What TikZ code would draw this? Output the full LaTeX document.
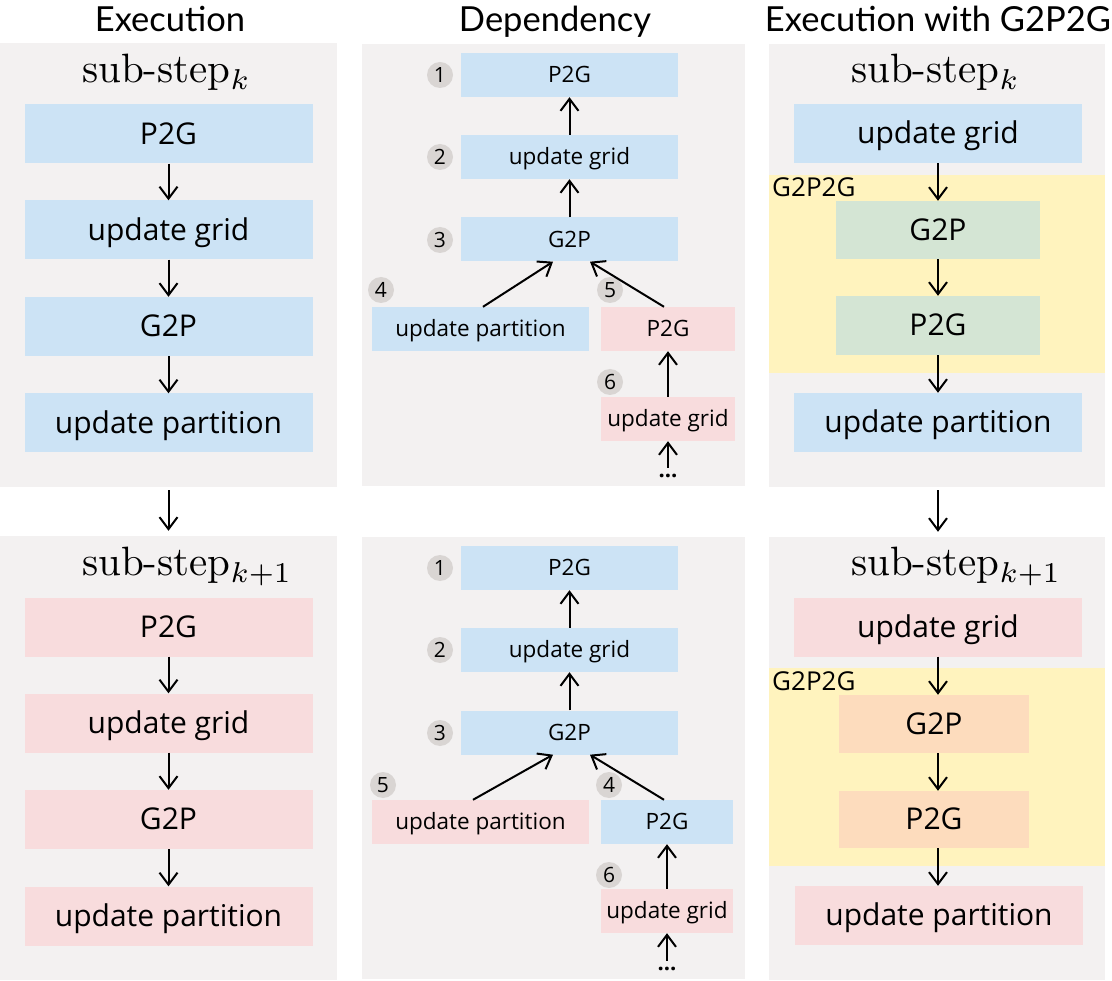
\documentclass[tikz,border=0pt]{standalone}
\usepackage{graphicx}
\usepackage{fontspec}
\newfontfamily\bxfont{Open Sans}
\newfontfamily\hdfont{Lato}
\usetikzlibrary{arrows.meta}
\definecolor{pnlgray}{HTML}{F3F1F1}
\definecolor{bxblue}{HTML}{CCE3F5}
\definecolor{bxpink}{HTML}{F8DCDD}
\definecolor{bxyellow}{HTML}{FFF3BE}
\definecolor{bxgreen}{HTML}{D4E5D4}
\definecolor{bxorange}{HTML}{FDDCBD}
\definecolor{numgray}{HTML}{D9D5D3}
\newcommand{\substeplabel}[1]{\scalebox{4.1}{\fontsize{10}{12}\selectfont sub-step$_{#1}$}}
\begin{document}
\begin{tikzpicture}[x=1pt,y=-1pt,
  pnl/.style={rectangle, fill=pnlgray, inner sep=0, minimum width=#1},
  bx/.style={rectangle, inner sep=0, text=black, minimum height=59pt, minimum width=288pt,
     font=\bxfont\fontsize{30}{36}\selectfont, text height=21.6pt, text depth=1.5pt},
  bxs/.style={rectangle, inner sep=0, text=black, minimum height=44pt, minimum width=217pt,
     font=\bxfont\fontsize{22.5}{27}\selectfont, text height=16.2pt, text depth=1.1pt},
  num/.style={circle, fill=numgray, inner sep=0, minimum size=26pt,
     font=\bxfont\fontsize{21}{25}\selectfont, text height=15pt, text depth=0.5pt},
  hdr/.style={anchor=base, inner sep=0, font=\hdfont\fontsize{34.5}{40}\selectfont},
  sub/.style={anchor=base west, inner sep=0},
  glab/.style={anchor=base west, inner sep=0, font=\bxfont\fontsize{26}{30}\selectfont},
  dots/.style={inner sep=1pt, font=\bxfont\bfseries\fontsize{22}{26}\selectfont},
  arr/.style={line width=2pt, -{Straight Barb[length=12pt,width=18pt,line width=2pt]}}
]
\useasboundingbox (0,0) rectangle (1112,981);
\fill[white] (0,0) rectangle (1112,981);

% headers
\node[hdr] (h1) at (170,32) {Execution};
\node[hdr] (h2) at (555,32) {Dependency};
\node[hdr] (h3) at (938,32) {Execution with G2P2G};

% panels
\node[pnl=337pt, minimum height=444pt] (PL1) at (168.5,265) {};
\node[pnl=337pt, minimum height=444pt] (PL2) at (168.5,758) {};
\node[pnl=383pt, minimum height=442pt] (PM1) at (553.5,265) {};
\node[pnl=383pt, minimum height=442pt] (PM2) at (553.5,758) {};
\node[pnl=336pt, minimum height=443pt] (PR1) at (937,265.5) {};
\node[pnl=336pt, minimum height=443pt] (PR2) at (937,758.5) {};

% yellow G2P2G regions
\node[rectangle, fill=bxyellow, inner sep=0, minimum width=336pt, minimum height=198pt] (Y1) at (937,274) {};
\node[rectangle, fill=bxyellow, inner sep=0, minimum width=336pt, minimum height=198pt] (Y2) at (937,767) {};
\node[glab] (g1) at (772,197) {G2P2G};
\node[glab] (g2) at (772,690) {G2P2G};

% ---------- left column ----------
\node[sub] (s1) at (82,83) {\substeplabel{k}};
\node[bx, fill=bxblue] (L1) at (168.5,134) {P2G};
\node[bx, fill=bxblue] (L2) at (168.5,230) {update grid};
\node[bx, fill=bxblue] (L3) at (168.5,326.5) {G2P};
\node[bx, fill=bxblue] (L4) at (168.5,423) {update partition};
\draw[arr] (L1.south) -- (L2.north);
\draw[arr] (L2.south) -- (L3.north);
\draw[arr] (L3.south) -- (L4.north);

\node[sub] (s2) at (82,576) {\substeplabel{k+1}};
\node[bx, fill=bxpink] (L5) at (168.5,627) {P2G};
\node[bx, fill=bxpink] (L6) at (168.5,723) {update grid};
\node[bx, fill=bxpink] (L7) at (168.5,819.5) {G2P};
\node[bx, fill=bxpink] (L8) at (168.5,916) {update partition};
\draw[arr] (L5.south) -- (L6.north);
\draw[arr] (L6.south) -- (L7.north);
\draw[arr] (L7.south) -- (L8.north);

\draw[arr, shorten <=3pt, shorten >=5pt] (PL1.south) -- (PL2.north);

% ---------- middle column, top ----------
\node[bxs, fill=bxblue] (A1) at (569.5,75) {P2G};
\node[bxs, fill=bxblue] (A2) at (569.5,157) {update grid};
\node[bxs, fill=bxblue] (A3) at (569.5,239.5) {G2P};
\node[bxs, fill=bxblue] (A4) at (480.5,329) {update partition};
\node[bxs, fill=bxpink, minimum width=134pt] (A5) at (668,329) {P2G};
\node[bxs, fill=bxpink, minimum width=134pt] (A6) at (668,419) {update grid};
\node[dots] (Ad) at (668,476) {...};
\node[num] (a1) at (440,75) {1};
\node[num] (a2) at (440,157) {2};
\node[num] (a3) at (440,240) {3};
\node[num] (a4) at (381,290) {4};
\node[num] (a5) at (610,290) {5};
\node[num] (a6) at (610,382) {6};
\draw[arr] (A2.north) -- (A1.south);
\draw[arr] (A3.north) -- (A2.south);
\draw[arr] ([xshift=2.5pt]A4.north) -- ([xshift=-16.5pt]A3.south);
\draw[arr] ([xshift=-4pt]A5.north) -- ([xshift=20.5pt]A3.south);
\draw[arr] (A6.north) -- (A5.south);
\draw[arr, shorten <=5pt] (Ad.north) -- (A6.south);

% ---------- middle column, bottom ----------
\node[bxs, fill=bxblue] (B1) at (569.5,568) {P2G};
\node[bxs, fill=bxblue] (B2) at (569.5,650) {update grid};
\node[bxs, fill=bxblue] (B3) at (569.5,732.5) {G2P};
\node[bxs, fill=bxpink] (B4) at (480.5,822) {update partition};
\node[bxs, fill=bxblue, minimum width=132pt] (B5) at (667,822) {P2G};
\node[bxs, fill=bxpink, minimum width=132pt] (B6) at (667,911) {update grid};
\node[dots] (Bd) at (667,969) {...};
\node[num] (b1) at (440,568) {1};
\node[num] (b2) at (440,650) {2};
\node[num] (b3) at (440,733) {3};
\node[num] (b5) at (383,785) {5};
\node[num] (b4) at (609,785) {4};
\node[num] (b6) at (609,875) {6};
\draw[arr] (B2.north) -- (B1.south);
\draw[arr] (B3.north) -- (B2.south);
\draw[arr] ([xshift=-7.5pt]B4.north) -- ([xshift=-16.5pt]B3.south);
\draw[arr] ([xshift=-3pt]B5.north) -- ([xshift=20.5pt]B3.south);
\draw[arr] (B6.north) -- (B5.south);
\draw[arr, shorten <=5pt] (Bd.north) -- (B6.south);

% ---------- right column ----------
\node[sub] (s3) at (851,83) {\substeplabel{k}};
\node[bx, fill=bxblue] (R1) at (938,133.5) {update grid};
\node[bx, fill=bxgreen, minimum width=204pt, minimum height=58pt] (R2) at (938,230) {G2P};
\node[bx, fill=bxgreen, minimum width=204pt] (R3) at (938,325.5) {P2G};
\node[bx, fill=bxblue] (R4) at (938,422.5) {update partition};
\draw[arr] (R1.south) -- (R2.north);
\draw[arr] (R2.south) -- (R3.north);
\draw[arr] (R3.south) -- (R4.north);

\node[sub] (s4) at (851,576) {\substeplabel{k+1}};
\node[bx, fill=bxpink] (R5) at (938,627) {update grid};
\node[bx, fill=bxorange, minimum width=190pt, minimum height=58pt] (R6) at (934,724) {G2P};
\node[bx, fill=bxorange, minimum width=190pt, minimum height=57pt] (R7) at (934,819.5) {P2G};
\node[bx, fill=bxpink] (R8) at (939,915.5) {update partition};
\draw[arr] (R5.south) -- (R5.south |- R6.north);
\draw[arr] (R5.south |- R6.south) -- (R5.south |- R7.north);
\draw[arr] (R5.south |- R7.south) -- (R5.south |- R8.north);

\draw[arr, shorten <=3pt, shorten >=5pt] (PR1.south -| R4.south) -- (PR2.north -| R4.south);
\end{tikzpicture}
\end{document}
